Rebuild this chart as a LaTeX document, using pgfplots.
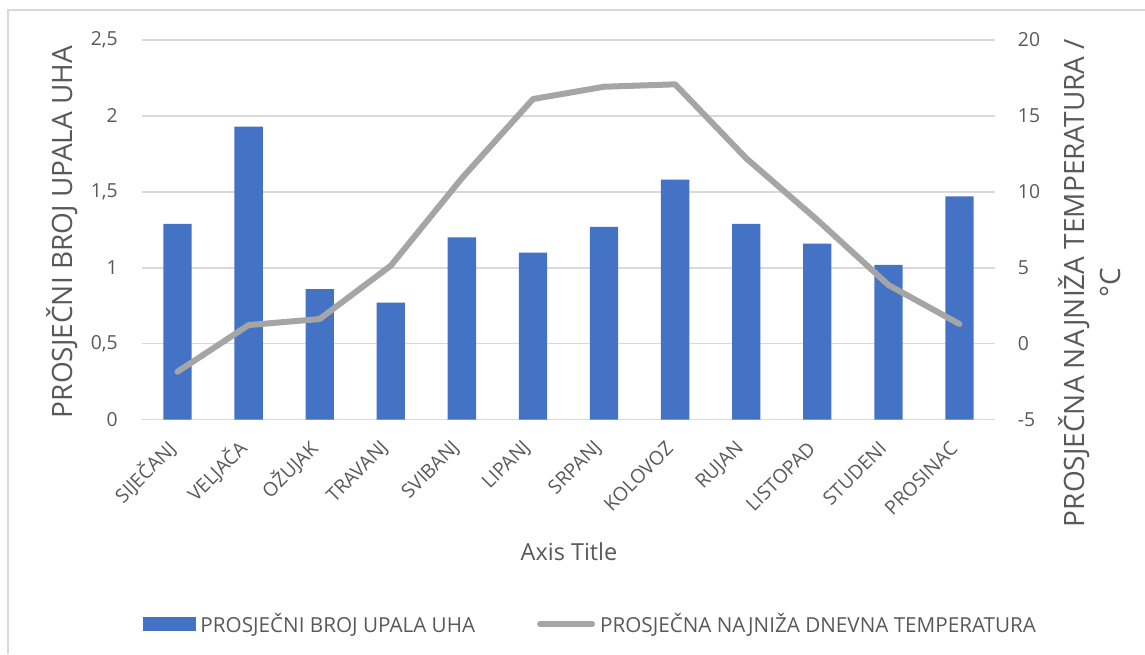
\documentclass[border=0pt]{standalone}
\usepackage{fontspec}
\setmainfont{Open Sans}
\usepackage{pgfplots}
\pgfplotsset{compat=1.18}

\definecolor{barblue}{HTML}{4472C4}
\definecolor{linegray}{HTML}{A5A5A5}
\definecolor{txtgray}{HTML}{595959}
\definecolor{gridgray}{HTML}{D9D9D9}

\pgfplotsset{
  chartbase/.style={
    width=639.75pt, height=284.8pt, scale only axis,
    at={(106.5pt,175.725pt)}, anchor=south west,
    xmin=-0.5, xmax=11.5,
    axis line style={draw=none},
    major tick length=0pt,
    tick label style={font=\fontsize{14.5}{16}\selectfont, text=txtgray, inner sep=0pt},
    /pgf/number format/assume math mode=true,
    /pgf/number format/use comma,
    /pgf/number format/1000 sep={},
  },
}

\begin{document}
\begin{tikzpicture}[x=0.75pt,y=0.75pt]
\useasboundingbox (0,0) rectangle (1145,654);
\draw[gridgray, line width=1.1pt] (8,0) -- (8,644) -- (1145,644);

% bars, left axis
\begin{axis}[chartbase,
    ymin=0, ymax=2.5,
    ytick={0,0.5,1,1.5,2,2.5},
    ymajorgrids,
    grid style={gridgray, line width=1.1pt},
    yticklabel style={anchor=east, xshift=-18pt},
    xtick={0,...,11},
    xticklabels={SIJEČANJ,VELJAČA,OŽUJAK,TRAVANJ,SVIBANJ,LIPANJ,SRPANJ,KOLOVOZ,RUJAN,LISTOPAD,STUDENI,PROSINAC},
    xticklabel style={yshift=-19pt, xshift=-4pt, rotate=45, anchor=east, font=\fontsize{14.5}{16}\selectfont},
]
\addplot[ybar, bar width=21.2pt, fill=barblue, draw=none] coordinates {
(0,1.29) (1,1.93) (2,0.86) (3,0.77) (4,1.20) (5,1.10)
(6,1.27) (7,1.58) (8,1.29) (9,1.16) (10,1.02) (11,1.47)
};
\end{axis}

% temperature line, right axis
\begin{axis}[chartbase,
    axis y line*=right, hide x axis,
    ymin=-5, ymax=20,
    ytick={-5,0,5,10,15,20},
    yticklabel style={anchor=west, xshift=17pt},
    legend columns=2,
    legend style={at={(0.5246,-0.538)}, anchor=center, draw=none, fill=none,
      inner sep=0pt,
      font=\fontsize{15.5}{18}\selectfont, text=txtgray,
      nodes={inner sep=0pt, text=txtgray},
      /tikz/every odd column/.append style={column sep=3.75pt},
      /tikz/every even column/.append style={column sep=46.5pt}},
]
\addlegendimage{legend image code/.code={\fill[barblue] (0pt,-4.75pt) rectangle (39pt,4.75pt);}}
\addlegendentry{PROSJEČNI BROJ UPALA UHA}
\addplot[linegray, line width=4.5pt, line join=round, line cap=round,
  legend image code/.code={\draw[linegray, line width=4.5pt] (0pt,0pt) -- (39pt,0pt);}] coordinates {
(0,-1.84) (1,1.23) (2,1.63) (3,5.14) (4,10.9) (5,16.11)
(6,16.92) (7,17.08) (8,12.21) (9,8.15) (10,3.87) (11,1.30)
};
\addlegendentry{PROSJEČNA NAJNIŽA DNEVNA TEMPERATURA}
\end{axis}

\node[rotate=90, font=\fontsize{21}{24}\selectfont, text=txtgray] at (62.5,422) {PROSJEČNI BROJ UPALA UHA};
\node[rotate=90, align=center, font=\fontsize{21}{27}\selectfont, text=txtgray] at (1090,371) {PROSJEČNA NAJNIŽA TEMPERATURA /\\°C};
\node[font=\fontsize{17.6}{20}\selectfont, text=txtgray] at (569,102) {Axis Title};
\end{tikzpicture}
\end{document}
